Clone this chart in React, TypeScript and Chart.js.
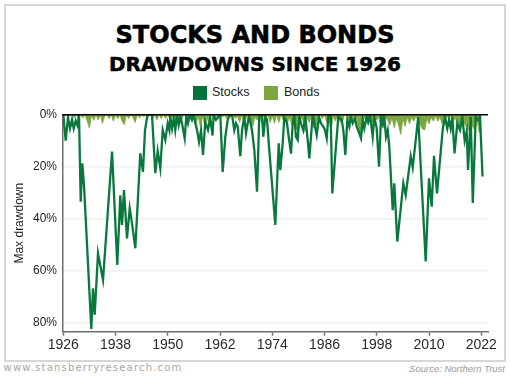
import React, { useEffect, useRef } from "react";
import { Chart, registerables } from "chart.js";

Chart.register(...registerables);

// Stocks: max drawdown (%), at the vertices of the line
const stockYears = [
  1926.0, 1926.55, 1927.08, 1927.54, 1928.0, 1928.39, 1928.85, 1929.22, 1929.61, 1930.0,
  1930.36, 1930.75, 1932.43, 1932.82, 1933.21, 1933.97, 1935.12, 1937.19, 1938.4, 1939.09,
  1939.48, 1939.94, 1940.63, 1941.25, 1941.78, 1942.54, 1943.68, 1944.3, 1944.76, 1945.34,
  1946.37, 1947.13, 1947.68, 1948.28, 1948.83, 1949.43, 1949.98, 1950.35, 1950.58, 1950.97,
  1951.36, 1951.72, 1952.11, 1952.5, 1952.87, 1953.26, 1953.88, 1954.25, 1954.64, 1955.03,
  1955.56, 1955.95, 1956.32, 1956.71, 1957.17, 1957.63, 1958.09, 1958.61, 1959.23, 1959.76,
  1960.27, 1960.54, 1961.07, 1962.06, 1962.61, 1963.21, 1963.76, 1964.29, 1964.75, 1965.27,
  1965.66, 1966.06, 1966.65, 1967.04, 1967.57, 1967.96, 1968.35, 1968.72, 1969.34, 1969.87,
  1970.49, 1971.02, 1971.64, 1971.93, 1972.39, 1972.78, 1973.31, 1974.69, 1975.47, 1975.84,
  1976.39, 1976.76, 1977.38, 1977.77, 1978.3, 1978.69, 1979.05, 1979.44, 1979.84, 1980.2,
  1980.59, 1981.12, 1981.58, 1982.13, 1982.5, 1983.28, 1984.2, 1984.73, 1985.19, 1985.71,
  1986.1, 1986.5, 1986.86, 1987.41, 1987.78, 1989.16, 1989.94, 1990.31, 1990.77, 1991.23,
  1991.69, 1992.01, 1992.47, 1993.0, 1993.39, 1993.98, 1994.37, 1994.76, 1995.13, 1995.68,
  1996.05, 1996.44, 1997.06, 1997.43, 1997.98, 1998.51, 1998.97, 1999.36, 1999.66, 2000.12,
  2000.51, 2000.87, 2001.65, 2002.02, 2002.71, 2004.09, 2004.64, 2005.79, 2006.25, 2007.51,
  2009.23, 2009.99, 2010.61, 2011.14, 2011.83, 2013.16, 2013.67, 2014.19, 2014.58, 2014.98,
  2015.34, 2015.85, 2016.49, 2017.11, 2017.64, 2018.19, 2018.65, 2018.95, 2019.57, 2020.05,
  2020.72, 2021.25, 2021.71, 2022.28,
];
const stockValues = [
  0, 10, 1, 5.3, 1.8, 5.3, 2.3, 4, 0.5, 33.5,
  18.7, 27, 82.4, 66.8, 77, 53.3, 63.6, 14.2, 57.8, 31,
  42.4, 29, 47.6, 36, 41.8, 51.4, 14.9, 22, 6, 0,
  0, 22.5, 14, 20.6, 5.9, 9.7, 3.3, 5.9, 0.8, 5.3,
  1.4, 5.9, 0.1, 4, 0.8, 3.3, 9.1, 0.8, 3.3, 0,
  2, 0, 3.3, 5.9, 10.5, 6, 15.5, 2.7, 5.9, 1.4,
  8, 0, 2, 0, 22, 8.5, 2, 0, 0, 6,
  3.3, 4.6, 16, 6, 0.8, 7.2, 3.3, 0.8, 6, 13.6,
  29.6, 0, 0, 8.5, 0.8, 2, 13.6, 42.4, 11, 21.3,
  11, 0.8, 3.3, 8.5, 15, 3.3, 0, 8.5, 9.7, 0.8,
  3.3, 6, 0.8, 9.7, 16.8, 0, 7.8, 0.8, 3.3, 4.6,
  5.9, 9.1, 0.8, 0, 30.3, 0.8, 2, 5.9, 15.5, 2,
  4.6, 0.8, 3.3, 1.4, 4.6, 7.2, 9.1, 2, 5.3, 0.8,
  2.7, 0, 8.5, 0.8, 5.3, 20, 0.8, 3.3, 0, 8.5,
  5.9, 12.3, 36.7, 26.4, 48.8, 26.4, 30.9, 16, 20.3, 1,
  56.5, 24.5, 35.4, 15.8, 30.3, 5.3, 0.8, 5.3, 2, 5.3,
  0.8, 14.9, 3.3, 5.9, 0.8, 10, 6.5, 21.3, 0.8, 34,
  0.8, 2, 0.8, 23.8,
];

// Bonds: max drawdown (%) every half year from 1926 to 2022
const bondStartYear = 1926;
const bondStepYears = 0.5;
const bondValues = [
  0, 0.4, 0, 0.6, 0, 1.2, 0, 1.8, 0, 1.2, 0, 2.5, 5.2, 0, 2.2, 0, 2, 0, 3.3, 0.5,
  0, 1.5, 0, 2.5, 0, 1.5, 0, 2.5, 3.8, 0, 1.5, 0, 1, 3, 0, 1.2, 0, 0.8, 0, 0.8,
  0, 1.5, 0, 2, 0, 1.5, 0, 1.5, 0, 2, 0, 3, 0.5, 2.5, 3, 0.5, 0, 1.5, 0, 2.5,
  0.5, 3.5, 0.5, 4.6, 0.5, 4.5, 1, 4, 0, 1, 0, 1.5, 0, 1, 0, 1.5, 0, 1, 0, 1.5,
  0.5, 3, 0, 3.5, 0.5, 3, 1, 4.5, 1, 2, 0, 3, 0, 2, 0, 3, 0.5, 3.3, 0, 3,
  0, 2, 0, 3, 1, 4, 1, 5.5, 6.5, 1, 2, 6.5, 1, 3, 0.5, 5, 4.5, 1, 0, 1.5,
  0, 3, 2, 6, 0.5, 2.5, 0, 2.5, 3.5, 0.5, 0, 2, 0.5, 2, 0, 2, 7.8, 8, 1, 2,
  4, 1, 3, 0.5, 2, 1, 4.5, 5, 1, 2, 4, 1, 5, 1.5, 4, 7.6, 1.5, 4.5, 1, 3.5,
  1, 2.5, 0.5, 2.5, 4, 5.5, 5.9, 1.5, 3.5, 1, 2.5, 0.5, 2.5, 1, 3.5, 4, 0.5, 1.5, 0.5, 3,
  1, 3.5, 5.6, 1, 3, 4.5, 6, 1, 4.5, 6, 1.5, 6.8, 7,
];

const xTickYears = [1926, 1938, 1950, 1962, 1974, 1986, 1998, 2010, 2022];
const yTickValues = [0, 20, 40, 60, 80];

const STOCK_COLOR = "#08783d";
const BOND_COLOR = "#7ba641";

const zeroLinePlugin = {
  id: "zeroLine",
  afterDatasetsDraw(chart: any) {
    const { ctx, chartArea, scales } = chart;
    const y = scales.y.getPixelForValue(0);
    ctx.save();
    ctx.strokeStyle = "#000";
    ctx.lineWidth = 1.6;
    ctx.beginPath();
    ctx.moveTo(chartArea.left - 0.75, y);
    ctx.lineTo(chartArea.right, y);
    ctx.stroke();
    ctx.restore();
  },
};

export default function App() {
  const ref = useRef<HTMLCanvasElement>(null);

  useEffect(() => {
    const stockData = stockYears.map((yr, i) => ({ x: yr, y: stockValues[i] }));
    const bondData = bondValues.map((v, i) => ({ x: bondStartYear + i * bondStepYears, y: v }));
    const chart = new Chart(ref.current as HTMLCanvasElement, {
      type: "line",
      data: {
        datasets: [
          {
            label: "Stocks",
            data: stockData,
            borderColor: STOCK_COLOR,
            backgroundColor: STOCK_COLOR,
            borderWidth: 2.3,
            pointRadius: 0,
            tension: 0,
            fill: false,
          },
          {
            label: "Bonds",
            data: bondData,
            borderColor: BOND_COLOR,
            backgroundColor: BOND_COLOR,
            borderWidth: 0.8,
            pointRadius: 0,
            tension: 0,
            fill: "origin",
          },
        ],
      },
      options: {
        animation: false,
        responsive: false,
        layout: { padding: { left: 0, top: 14.7, right: 22, bottom: 0 } },
        plugins: {
          legend: { display: false },
          tooltip: { enabled: false },
          title: { display: false },
        },
        scales: {
          x: {
            type: "linear",
            min: 1925.93,
            max: 2023.54,
            afterBuildTicks: (s: any) => {
              s.ticks = xTickYears.map((v) => ({ value: v }));
            },
            afterFit: (s: any) => {
              s.height = 28.3;
            },
            ticks: {
              autoSkip: false,
              maxRotation: 0,
              padding: 1,
              color: "#2a2a2a",
              font: { family: "Liberation Sans", size: 14 },
              callback: (v: any) => String(v),
            },
            grid: {
              drawOnChartArea: false,
              drawTicks: true,
              tickLength: 4,
              tickColor: "#6e6e6e",
              tickWidth: 1.5,
            },
            border: { display: true, color: "#6e6e6e", width: 1.5 },
          },
          y: {
            type: "linear",
            reverse: true,
            min: 0,
            max: 83.5,
            afterBuildTicks: (s: any) => {
              s.ticks = yTickValues.map((v) => ({ value: v }));
            },
            afterFit: (s: any) => {
              s.width = 63;
            },
            ticks: {
              padding: 6,
              color: "#1e1e1e",
              font: { family: "Liberation Sans", size: 12 },
              callback: (v: any) => v + "%",
            },
            grid: {
              drawTicks: false,
              color: (c: any) => (c.tick && c.tick.value === 0 ? "rgba(0,0,0,0)" : "#efefef"),
              lineWidth: 1.5,
            },
            border: { display: true, color: "#6e6e6e", width: 1.5 },
            title: {
              display: true,
              text: "Max drawdown",
              color: "#1e1e1e",
              font: { family: "Liberation Sans", size: 12 },
              padding: { top: 12, bottom: 0 },
            },
          },
        },
      },
      plugins: [zeroLinePlugin],
    });
    return () => chart.destroy();
  }, []);

  const legendText: React.CSSProperties = {
    position: "absolute",
    top: 85.4,
    fontFamily: "Liberation Sans",
    fontSize: 12.5,
    lineHeight: "14px",
    color: "#222",
    whiteSpace: "nowrap",
  };

  return (
    <div
      style={{
        position: "absolute",
        left: 0,
        top: 0,
        width: 510,
        height: 379,
        background: "#fff",
        overflow: "hidden",
      }}
    >
      <div
        style={{
          position: "absolute",
          left: 4,
          top: 4,
          width: 502,
          height: 358,
          boxSizing: "border-box",
          border: "2px solid #d6d6d6",
        }}
      />
      <div
        style={{
          position: "absolute",
          left: 0,
          width: 510,
          top: 23,
          textAlign: "center",
          fontFamily: "DejaVu Sans",
          fontWeight: "bold",
          fontSize: 24,
          lineHeight: "24px",
          color: "#000",
          WebkitTextStroke: "0.6px #000",
          whiteSpace: "nowrap",
        }}
      >
        STOCKS AND BONDS
      </div>
      <div
        style={{
          position: "absolute",
          left: 0,
          width: 510,
          top: 53.8,
          textAlign: "center",
          fontFamily: "DejaVu Sans",
          fontWeight: "bold",
          fontSize: 20,
          lineHeight: "20px",
          color: "#000",
          WebkitTextStroke: "0.5px #000",
          whiteSpace: "nowrap",
        }}
      >
        DRAWDOWNS SINCE 1926
      </div>
      <div style={{ position: "absolute", left: 193, top: 86, width: 14, height: 14, background: "#00733c" }} />
      <div style={{ ...legendText, left: 212 }}>Stocks</div>
      <div style={{ position: "absolute", left: 264, top: 86, width: 14, height: 14, background: BOND_COLOR }} />
      <div style={{ ...legendText, left: 284 }}>Bonds</div>
      <canvas
        ref={ref}
        width={510}
        height={260}
        style={{ position: "absolute", left: 0, top: 100, width: 510, height: 260 }}
      />
      <div
        style={{
          position: "absolute",
          left: 3.5,
          top: 362,
          fontFamily: "DejaVu Sans",
          fontSize: 10,
          lineHeight: "12px",
          letterSpacing: 1.2,
          color: "#a6a6a6",
          whiteSpace: "nowrap",
        }}
      >
        www.stansberryresearch.com
      </div>
      <div
        style={{
          position: "absolute",
          right: 5,
          top: 363,
          fontFamily: "Liberation Sans",
          fontStyle: "italic",
          fontSize: 9.5,
          lineHeight: "12px",
          color: "#9a9a9a",
          whiteSpace: "nowrap",
        }}
      >
        Source: Northern Trust
      </div>
    </div>
  );
}
